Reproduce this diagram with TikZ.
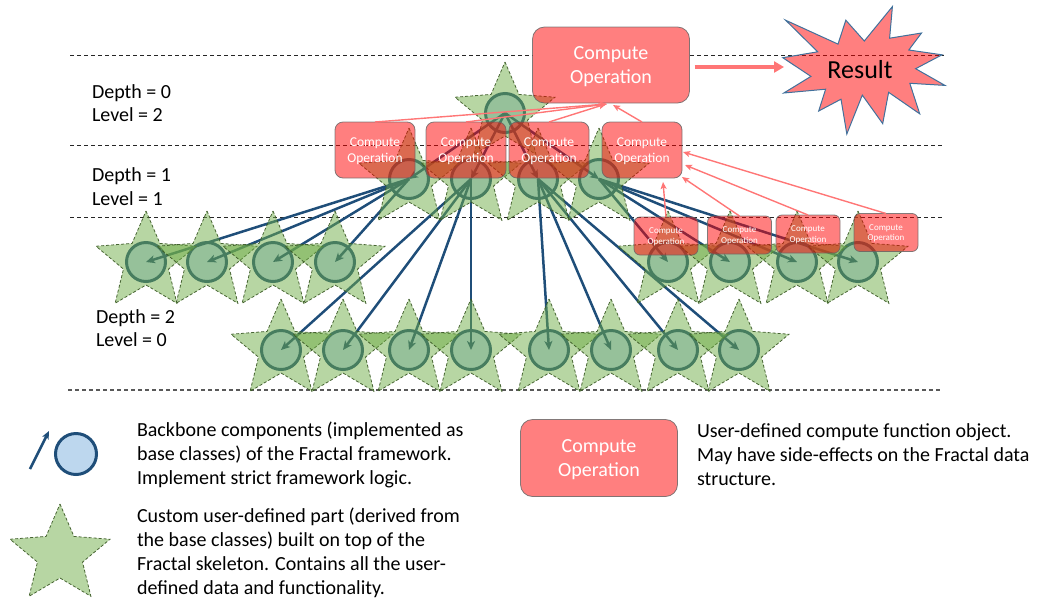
\documentclass[tikz,border=0pt]{standalone}
\usepackage{fontspec}
\setmainfont{Carlito}
\usetikzlibrary{arrows.meta}

\definecolor{bbblue}{RGB}{31,78,121}
\definecolor{bbfill}{RGB}{189,215,238}
\definecolor{ugreen}{RGB}{112,173,71}
\definecolor{ugreenline}{RGB}{56,87,35}
\definecolor{opred}{RGB}{255,0,0}
\definecolor{oparrow}{RGB}{255,118,118}
\definecolor{sealline}{RGB}{65,113,156}
\definecolor{boxline}{RGB}{100,100,100}

\tikzset{
  every node/.style={inner sep=0pt, outer sep=0pt},
  bb/.style={circle, draw=bbblue, fill=bbfill, line width=3pt, minimum size=39pt},
  uspart/.style={fill=ugreen, fill opacity=0.5, draw=ugreenline, draw opacity=0.9,
    line width=0.8pt, dash pattern=on 3pt off 2pt},
  cop/.style={rectangle, rounded corners=#1, fill=opred, fill opacity=0.5, text opacity=1,
    draw=boxline, draw opacity=0.8, line width=0.8pt, text=white, align=center,
    text depth=0pt},
  bigop/.style={cop=12pt, minimum width=157pt, minimum height=76pt,
    font=\fontsize{20}{24}\selectfont},
  midop/.style={cop=8pt, minimum width=80pt, minimum height=56pt,
    font=\fontsize{13.5}{15.5}\selectfont},
  smallop/.style={cop=6pt, minimum width=64pt, minimum height=38pt,
    font=\fontsize{9}{10.5}\selectfont},
  blink/.style={-{Stealth[length=9pt,width=8pt,inset=2.5pt]}, draw=bbblue, line width=2.5pt},
  redlink/.style={-{Stealth[length=7pt,width=6pt,inset=1.5pt]}, draw=oparrow, line width=1.4pt},
  bigarrow/.style={-{Triangle[length=10pt,width=11pt]}, draw=oparrow, line width=3.5pt},
  level/.style={draw=black!85, line width=0.9pt, dash pattern=on 4pt off 3pt},
  levelbottom/.style={draw=black!65, line width=1.1pt, dash pattern=on 4pt off 3pt},
  lab/.style={font=\fontsize{20}{23.5}\selectfont, align=left, anchor=west},
  legtext/.style={font=\fontsize{20}{24}\selectfont, align=left, anchor=west},
  seal/.style={fill=opred, fill opacity=0.5, draw=sealline, line width=1pt},
}

% five-pointed star of a user-defined part, centred on a named node
\newcommand\userpart[1]{%
  \path[uspart, shift={(#1.center)}, xscale=1.03]
    (-90:51) -- (-54:23) -- (-18:51) -- (18:23) -- (54:51) -- (90:23)
    -- (126:51) -- (162:23) -- (198:51) -- (234:23) -- cycle;}

\begin{document}
\begin{tikzpicture}[x=1pt, y=-1pt]
\useasboundingbox (0,0) rectangle (1046,598);

% level separators
\draw[level] (70,55) -- (533,55);
\draw[level] (690,55) -- (944,55);
\draw[level] (70,145) -- (944,145);
\draw[level] (70,217) -- (944,217);
\draw[levelbottom] (68,390) -- (940,390);

% depth / level labels
\node[lab] (dl0) at (92,103) {Depth = 0\\Level = 2};
\node[lab] (dl1) at (92,186.5) {Depth = 1\\Level = 1};
\node[lab] (dl2) at (96,328) {Depth = 2\\Level = 0};

% backbone components
\node[bb] (t0) at (505,113) {};
\foreach \n/\x in {m1/409, m2/471, m3/538, m4/599}
  \node[bb] (\n) at (\x,179) {};
\foreach \n/\x in {a1/146, a2/207, a3/273, a4/335, r1/668, r2/730, r3/797, r4/858}
  \node[bb] (\n) at (\x,262) {};
\foreach \n/\x in {d1/281, d2/343, d3/409, d4/471, d5/549, d6/611, d7/678, d8/739}
  \node[bb] (\n) at (\x,350) {};

% backbone links
\foreach \i in {1,...,4} \draw[blink] (t0.center) -- (m\i.center);
\foreach \i in {1,...,4} \draw[blink] (m1.center) -- (a\i.center);
\foreach \i in {1,...,4} \draw[blink] (m2.center) -- (d\i.center);
\foreach \i in {5,...,8} \draw[blink] (m3.center) -- (d\i.center);
\foreach \i in {1,...,4} \draw[blink] (m4.center) -- (r\i.center);

% user-defined parts
\foreach \n in {t0,m1,m2,m3,m4,a1,a2,a3,a4,r1,r2,r3,r4,d1,d2,d3,d4,d5,d6,d7,d8}
  \userpart{\n};

% compute operations
\node[bigop] (top) at (611,65) {Compute\\Operation};
\node[midop] (b1) at (375,150) {Compute\\Operation};
\node[midop] (b2) at (466,150) {Compute\\Operation};
\node[midop] (b3) at (549,150) {Compute\\Operation};
\node[midop] (b4) at (642,150) {Compute\\Operation};
\node[smallop] (s1) at (666,236) {Compute\\Operation};
\node[smallop] (s2) at (739.5,235) {Compute\\Operation};
\node[smallop] (s3) at (808,234) {Compute\\Operation};
\node[smallop] (s4) at (886,232.5) {Compute\\Operation};

% result flow
\draw[redlink] (b1.north) -- ([xshift=-4pt,yshift=-1pt]top.south);
\draw[redlink] (b2.north) -- ([xshift=-4pt,yshift=-1pt]top.south);
\draw[redlink] (b3.north) -- ([xshift=-5pt,yshift=-1pt]top.south);
\draw[redlink] (b4.north) -- ([xshift=2pt,yshift=-2pt]top.south);
\draw[redlink] (s1.north) -- ([xshift=21pt,yshift=-4pt]b4.south);
\draw[redlink] (s2.north) -- ([xshift=0pt,yshift=1pt]b4.south east);
\draw[redlink] (s3.north) -- ([xshift=3pt,yshift=-15pt]b4.east);
\draw[redlink] (s4.north) -- ([xshift=1pt,yshift=-2pt]b4.east);

% result burst
\draw[seal] (864.3,41.0) -- (845.8,20.2) -- (838.0,44.1) -- (785.6,20.2) -- (817.7,51.8)
  -- (782.8,57.7) -- (810.9,76.4) -- (783.8,93.0) -- (825.6,89.2) -- (818.7,111.0)
  -- (841.0,99.2) -- (846.8,134.0) -- (862.3,95.1) -- (882.7,123.6) -- (888.6,92.3)
  -- (919.7,113.8) -- (909.8,83.3) -- (945.0,85.4) -- (915.6,68.7) -- (942.0,54.8)
  -- (908.8,50.0) -- (921.5,33.0) -- (889.6,38.2) -- (892.4,6.6) -- cycle;
\node[font=\fontsize{26}{30}\selectfont] (result) at (860,70) {Result};
\coordinate (resin) at (784,67);
\draw[bigarrow] ([xshift=5pt,yshift=-2pt]top.east) -- (resin);

% legend
\node[bb, minimum size=41pt] (legc) at (76,454) {};
\coordinate (lega) at (30,469);
\coordinate (legb) at (49,431);
\draw[blink, -{Stealth[length=8pt,width=7pt,inset=2pt]}] (lega) -- (legb);
\coordinate (legs) at (60,555);
\userpart{legs}
\node[legtext] (legt1) at (137,455) {Backbone components (implemented as\\base classes) of the Fractal framework.\\Implement strict framework logic.};
\node[legtext] (legt2) at (137,553) {Custom user-defined part (derived from\\the base classes) built on top of the\\Fractal skeleton. Contains all the user-\\defined data and functionality.};
\node[bigop, minimum height=77pt] (legop) at (599,458) {Compute\\Operation};
\node[legtext] (legt3) at (697,454.5) {User-defined compute function object.\\May have side-effects on the Fractal data\\structure.};
\end{tikzpicture}
\end{document}
